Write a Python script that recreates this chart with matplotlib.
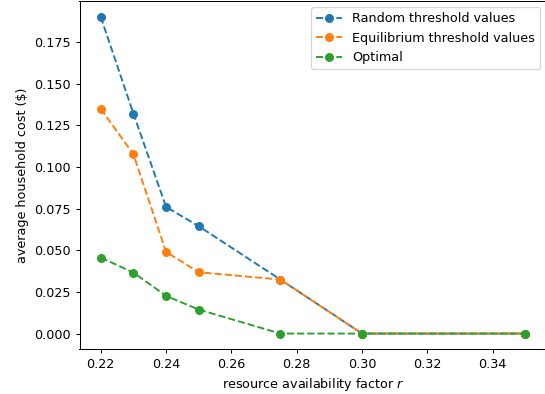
import matplotlib
matplotlib.use("Agg")
import matplotlib.pyplot as plt

r = [0.22, 0.23, 0.24, 0.25, 0.275, 0.30, 0.35]
random_vals = [0.190, 0.132, 0.076, 0.0644, 0.0324, 0.0, 0.0]
equilibrium_vals = [0.1348, 0.1076, 0.049, 0.0368, 0.0324, 0.0, 0.0]
optimal_vals = [0.0456, 0.0366, 0.0226, 0.0144, 0.0, 0.0, 0.0]

DPI = 92
W, H = 545, 394
fig = plt.figure(figsize=(W / DPI, H / DPI), dpi=DPI)
left, right, top, bottom = 79.5, 546.6, 1.0, 349.4
ax = fig.add_axes([left / W, 1 - bottom / H, (right - left) / W, (bottom - top) / H])

ax.plot(r, random_vals, 'o--', label='Random threshold values')
ax.plot(r, equilibrium_vals, 'o--', label='Equilibrium threshold values')
ax.plot(r, optimal_vals, 'o--', label='Optimal')

ax.set_xlabel('resource availability factor $r$')
ax.set_ylabel('average household cost ($)')
ax.legend(loc='upper right')

fig.savefig('out.png', dpi=DPI)
